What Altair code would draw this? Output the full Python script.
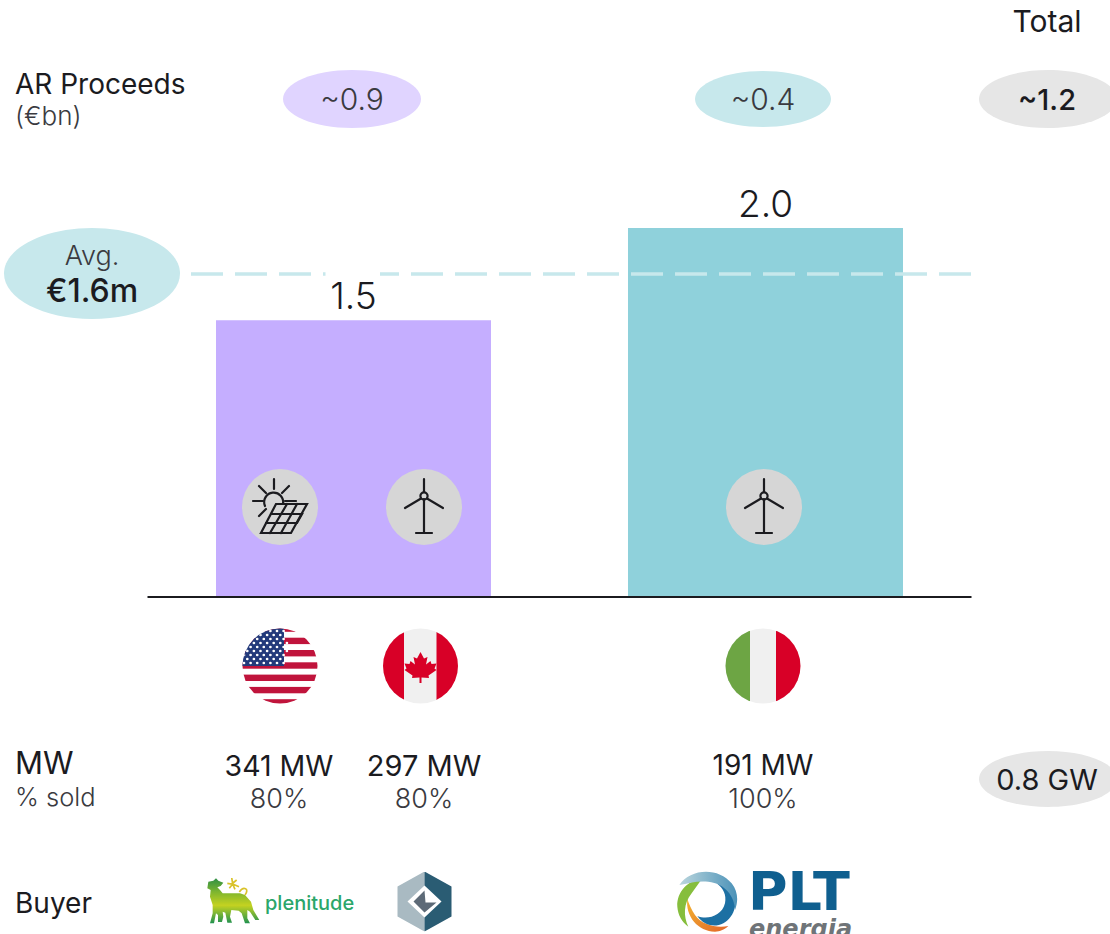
import base64
import altair as alt
import pandas as pd

# Values shown on the chart
groups = ["North America", "Italy"]
multiples = [1.5, 2.0]
bar_colors = ["#C5AEFF", "#8FD1DB"]
proceeds = ["~0.9", "~0.4"]
proceeds_total = "~1.2"
avg_label = "€1.6m"
mw_labels = ["341 MW", "297 MW", "191 MW"]
sold_labels = ["80%", "80%", "100%"]
mw_total = "0.8 GW"

FONT = "Inter"
INK = "#1B1B1F"
SOFT = "#3A3A40"
AVG_LINE_Y = 274


def svg_uri(body, w, h):
    svg = f'<svg xmlns="http://www.w3.org/2000/svg" width="{w}" height="{h}" viewBox="0 0 {w} {h}">{body}</svg>'
    return "data:image/svg+xml;base64," + base64.b64encode(svg.encode()).decode()


def label(x, y, s, size=24, weight=300, color=INK, align="center", font=FONT, **kw):
    return alt.Chart(pd.DataFrame({"t": [s]})).mark_text(
        text=s, fontSize=size, fontWeight=weight, color=color, align=align,
        baseline="middle", font=font, **kw
    ).encode(x=alt.value(x), y=alt.value(y))


def ellipse(x, y, rx, ry, color):
    # Ellipse path spanning -1..1 horizontally; the symbol size sets the final width
    k = ry / rx
    path = f"M-1,0A1,{k:.4f} 0 1 1 1,0A1,{k:.4f} 0 1 1 -1,0Z"
    return alt.Chart(pd.DataFrame({"t": [0]})).mark_point(
        shape=path, filled=True, color=color, opacity=1, size=(2 * rx) ** 2, strokeWidth=0
    ).encode(x=alt.value(x), y=alt.value(y))


def picture(x, y, w, h, body):
    return alt.Chart(pd.DataFrame({"t": [0]})).mark_image(
        url=svg_uri(body, w, h), width=w, height=h
    ).encode(x=alt.value(x), y=alt.value(y))


# Technology badges
TURBINE = (
    '<circle cx="38" cy="38" r="38" fill="#D6D6D6"/>'
    '<g fill="none" stroke="#1B1B1F" stroke-width="2.2" stroke-linecap="round">'
    '<path d="M38 10V23M38 30V64M30 64H46M35 29.5L19 39M41 29.5L57 39"/>'
    '<circle cx="38" cy="27" r="3.6"/></g>'
)
SOLAR = (
    '<circle cx="38" cy="38" r="38" fill="#D6D6D6"/>'
    '<g fill="none" stroke="#1B1B1F" stroke-width="2.2" stroke-linecap="round">'
    '<path d="M32 10V20M11 32H21M43 32H54M17 17L24 24M47 17L40 24M17 47L24 40"/>'
    '<path d="M23 37A9.5 9.5 0 1 1 41 35"/>'
    '<path d="M34 35H65L49 64H19Z"/>'
    '<path d="M29 45H60L55 54H24M45 35L28 64M55 35L39 64"/></g>'
)

# Country flags
stripes = "".join(
    f'<rect x="0" y="{-2.6 + 12.3 * i:.1f}" width="76" height="6.4" fill="#C0143C"/>' for i in range(7)
)
stars = "".join(
    f'<circle cx="{2 + 6.6 * c + (3.3 if r % 2 else 0):.1f}" cy="{3 + 4 * r:.1f}" r="1.35" fill="#fff"/>'
    for r in range(9) for c in range(7)
)
US_FLAG = (
    '<defs><clipPath id="a"><circle cx="38" cy="38" r="37.5"/></clipPath></defs>'
    f'<g clip-path="url(#a)"><rect width="76" height="76" fill="#fff"/>{stripes}'
    f'<rect width="42" height="38" fill="#233A7B"/>{stars}</g>'
)
LEAF = (
    "M38 24L41.5 30.5L45 29L43.5 36.5L48 33L49 36L54 35.5L52 40.5L54 42L46 47.5L46.5 50L39 49.5"
    "V55H37V49.5L29.5 50L30 47.5L22 42L24 40.5L22 35.5L27 36L28 33L32.5 36.5L31 29L34.5 30.5Z"
)
CA_FLAG = (
    '<defs><clipPath id="b"><circle cx="38" cy="38" r="37.5"/></clipPath></defs>'
    '<g clip-path="url(#b)"><rect width="76" height="76" fill="#F0F0F0"/>'
    '<rect width="21.5" height="76" fill="#D80027"/><rect x="54" width="22" height="76" fill="#D80027"/>'
    f'<path d="{LEAF}" fill="#D80027"/></g>'
)
IT_FLAG = (
    '<defs><clipPath id="c"><circle cx="38" cy="38" r="37.5"/></clipPath></defs>'
    '<g clip-path="url(#c)"><rect width="76" height="76" fill="#F0F0F0"/>'
    '<rect width="25" height="76" fill="#6DA544"/><rect x="51" width="25" height="76" fill="#D80027"/></g>'
)

# Buyer logo artwork
LION = (
    '<defs><linearGradient id="g" x1="0" y1="0" x2="0" y2="1">'
    '<stop offset="0" stop-color="#2F8F45"/><stop offset=".3" stop-color="#7DB52F"/>'
    '<stop offset=".6" stop-color="#C4D221"/><stop offset="1" stop-color="#219250"/></linearGradient>'
    '<filter id="s"><feGaussianBlur stdDeviation="1.2"/></filter></defs>'
    '<g filter="url(#s)" transform="translate(-15,-18) scale(.3333)">'
    '<path fill="url(#g)" d="M55 65L70 62L78 55L85 62L100 68L92 78L82 82L90 90L98 100L150 100L165 105'
    'L183 125L190 150L203 172L208 180L196 180L180 155L172 150L172 175L180 190L165 190L155 160L146 152'
    'L124 150L120 170L126 188L112 188L106 158L98 155L100 170L96 186L84 186L84 165L78 160L72 190L60 190'
    'L68 160L68 135L60 110L62 90L52 85Z"/>'
    '<path fill="none" stroke="#D9C22B" stroke-width="5" d="M165 105C180 85 160 78 148 96"/>'
    '<path fill="none" stroke="#D9C22B" stroke-width="5" '
    'd="M112 70L125 72L140 60M125 52L128 72L135 88M118 85L128 72L147 80"/></g>'
)
GEM = (
    '<defs><filter id="s"><feGaussianBlur stdDeviation=".3"/></filter></defs>'
    '<g filter="url(#s)">'
    '<path fill="#A9BAC2" d="M28 0V14L11 30L28 46V60L1 45V15Z"/>'
    '<path fill="#2B5B73" d="M28 0L55 15V45L28 60V46L45 30L28 14Z"/>'
    '<path fill="#5D6B77" d="M28 19L29 31L40 31L28 41L17 30Z"/></g>'
)
SWIRL = (
    '<defs><filter id="s"><feGaussianBlur stdDeviation="1"/></filter>'
    '<linearGradient id="p" x1="0" y1="0" x2="1" y2="0">'
    '<stop offset="0" stop-color="#BBD6DD"/><stop offset="1" stop-color="#4B92B8"/></linearGradient>'
    '<linearGradient id="o" x1="0" y1="0" x2="1" y2="1">'
    '<stop offset="0" stop-color="#F3B530"/><stop offset="1" stop-color="#E2662A"/></linearGradient></defs>'
    '<g filter="url(#s)" transform="translate(-15,-10) scale(.3333)">'
    '<path fill="url(#o)" d="M82 115C75 170 115 215 165 215C180 215 195 208 205 198C170 205 125 195 105 165C95 150 85 130 82 115Z"/>'
    '<path fill="#86BE3C" d="M125 58C85 60 50 95 52 140C54 165 65 185 85 200C70 170 70 130 95 100C105 85 115 72 125 58Z"/>'
    '<path fill="#1F6FA3" d="M225 110C235 160 195 205 150 195C135 192 120 180 112 168C140 180 185 170 195 130C200 105 190 85 170 70C200 75 220 90 225 110Z"/>'
    '<path fill="url(#p)" d="M58 75C90 25 175 20 215 70C235 95 235 125 225 150C225 110 195 70 145 65C110 62 85 70 58 75Z"/></g>'
)

bars_df = pd.DataFrame({"group": groups, "value": multiples, "color": bar_colors, "proceeds": proceeds})

x_band = alt.X(
    "group:N", axis=None, sort=groups,
    scale=alt.Scale(domain=groups, range=[147.5, 971.5], paddingInner=0.3325, paddingOuter=0.16625),
)
y_linear = alt.Y("value:Q", axis=None, scale=alt.Scale(domain=[0, 2], range=[597, 228]))

bars = alt.Chart(bars_df).mark_bar().encode(
    x=x_band, y=y_linear, color=alt.Color("color:N", scale=None, legend=None)
)
bar_values = alt.Chart(bars_df).mark_text(
    font=FONT, fontSize=37, fontWeight=300, color=INK, baseline="bottom", dy=-3
).encode(x=x_band, y=y_linear, text=alt.Text("value:Q", format=".1f"))

baseline_rule = alt.Chart(pd.DataFrame({"t": [0]})).mark_rule(color=INK, strokeWidth=2).encode(
    x=alt.value(147.5), x2=alt.value(971.5), y=alt.value(597)
)
avg_rule = alt.Chart(pd.DataFrame({"t": [0]})).mark_rule(
    color="#C7E8EC", strokeWidth=3.5, strokeDash=[32, 12]
).encode(x=alt.value(191), x2=alt.value(971.5), y=alt.value(AVG_LINE_Y))
avg_gap = alt.Chart(pd.DataFrame({"t": [0]})).mark_rect(color="#FFFFFF").encode(
    x=alt.value(325.5), x2=alt.value(380), y=alt.value(270), y2=alt.value(280)
)

layers = [
    bars, avg_rule, avg_gap, bar_values, baseline_rule,
    # Header row
    label(1047, 23, "Total", 30, 400),
    label(15, 86, "AR Proceeds", 28, 400, align="left"),
    label(15, 117, "(€bn)", 26, 300, color=SOFT, align="left"),
    ellipse(352, 99, 69, 29, "#E0D4FF"),
    ellipse(763, 99, 68, 28, "#C7E8EC"),
    ellipse(1048, 99, 69, 29, "#E6E6E6"),
    label(352, 101, proceeds[0], 30, 300, SOFT),
    label(763, 101, proceeds[1], 30, 300, SOFT),
    label(1047, 101, proceeds_total, 29, 500),
    # Average bubble
    ellipse(92, 273.5, 88, 45.5, "#C7E8EC"),
    label(92, 257, "Avg.", 27, 300, SOFT),
    label(92, 292, avg_label, 32, 500),
    # Technology badges
    picture(280, 507, 76, 76, SOLAR),
    picture(424, 507, 76, 76, TURBINE),
    picture(764, 507, 76, 76, TURBINE),
    # Country flags
    picture(280, 666, 76, 76, US_FLAG),
    picture(420.5, 666, 76, 76, CA_FLAG),
    picture(763, 666, 76, 76, IT_FLAG),
    # Capacity and stake sold
    label(15, 765, "MW", 31, 400, align="left"),
    label(15, 798, "% sold", 25.5, 300, SOFT, align="left"),
    label(279, 767, mw_labels[0], 28.5, 400),
    label(424, 767, mw_labels[1], 29, 400),
    label(763, 767, mw_labels[2], 28, 400),
    label(279, 800, sold_labels[0], 27, 300, SOFT),
    label(424, 800, sold_labels[1], 27, 300, SOFT),
    label(763, 800, sold_labels[2], 27, 300, SOFT),
    ellipse(1048, 779, 69, 28, "#E6E6E6"),
    label(1047, 781, mw_total, 29, 400),
    # Buyers
    label(15, 905, "Buyer", 28, 400, align="left"),
    picture(233, 902, 56, 48, LION),
    label(265, 904, "plenitude", 20, 500, "#2BA66A", align="left"),
    picture(424.5, 901.5, 56, 60, GEM),
    picture(707, 902, 64, 64, SWIRL),
    label(748, 894, "PLT", 54, 700, "#0F5F8F", align="left", font="DejaVu Sans"),
    label(749, 930, "energia", 24, 700, "#6F7478", align="left", font="DejaVu Sans", fontStyle="italic"),
]

chart = alt.layer(*layers).properties(
    width=1110, height=934, padding=0, autosize=alt.AutoSizeParams(type="none")
).configure_view(stroke=None)

chart.save("out.html", embed_options={"renderer": "svg", "actions": False})
